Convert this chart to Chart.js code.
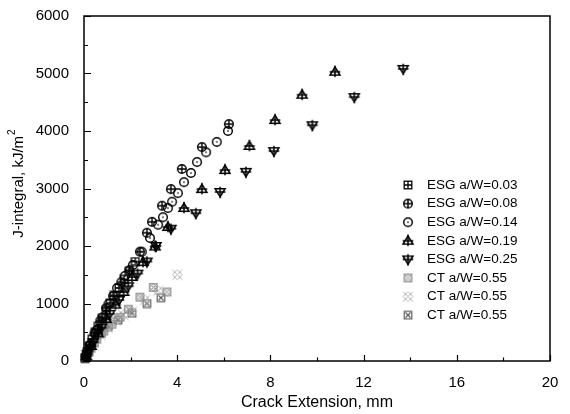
<!DOCTYPE html>
<html>
<head>
<meta charset="utf-8">
<script src="https://cdn.jsdelivr.net/npm/chart.js@4"></script>
<style>
  html, body { margin: 0; padding: 0; background: #fff; }
  #wrap { width: 570px; height: 414px; }
</style>
</head>
<body>
<div id="wrap"><canvas id="jr-chart" width="570" height="414"></canvas></div>
<script>
// Data (x = crack extension mm, y = J kJ/m2)
var esg003X = [0.05, 0.12, 0.22, 0.35, 0.48, 0.62, 0.78, 0.95, 1.12, 1.3, 1.5, 1.72, 1.95, 2.2];
var esg003Y = [60, 150, 260, 380, 500, 610, 740, 880, 1010, 1140, 1270, 1420, 1560, 1730];
var esg008X = [0.08, 0.25, 0.45, 0.7, 0.95, 1.25, 1.6, 1.95, 2.4, 2.7, 2.92, 3.35, 3.73, 4.2, 5.06, 6.22];
var esg008Y = [90, 280, 480, 700, 920, 1130, 1370, 1580, 1900, 2230, 2420, 2700, 2990, 3340, 3720, 4120];
var esg014X = [0.1, 0.3, 0.55, 0.8, 1.05, 1.42, 1.75, 2.1, 2.48, 2.83, 3.18, 3.39, 3.6, 3.78, 4.03, 4.29, 4.59, 4.85, 5.24, 5.7, 6.18];
var esg014Y = [100, 300, 540, 760, 990, 1270, 1480, 1670, 1900, 2140, 2370, 2500, 2660, 2770, 2920, 3110, 3270, 3460, 3630, 3810, 4000];
var esg019X = [0.1, 0.3, 0.6, 0.95, 1.35, 1.7, 2.06, 2.53, 3.05, 3.6, 4.29, 5.06, 6.05, 7.1, 8.2, 9.36, 10.77];
var esg019Y = [80, 260, 480, 730, 980, 1200, 1460, 1720, 1990, 2330, 2660, 2990, 3320, 3740, 4190, 4630, 5030];
var esg025X = [0.15, 0.4, 0.75, 1.1, 1.5, 1.9, 2.3, 2.7, 3.09, 3.73, 4.8, 5.84, 6.95, 8.15, 9.8, 11.6, 13.7];
var esg025Y = [120, 330, 580, 820, 1060, 1300, 1520, 1730, 2000, 2300, 2570, 2940, 3290, 3650, 4100, 4590, 5080];
var ct1X = [0.1, 0.3, 0.55, 0.85, 1.2, 1.55, 1.9, 2.4, 2.97, 3.56];
var ct1Y = [70, 220, 380, 520, 640, 760, 900, 1110, 1280, 1200];
var ct2X = [0.15, 0.4, 0.7, 1.0, 1.35, 1.7, 2.06, 2.62, 3.18, 4.0];
var ct2Y = [110, 270, 450, 580, 700, 800, 860, 1060, 1220, 1500];
var ct3X = [0.05, 0.2, 0.45, 0.75, 1.05, 1.46, 2.06, 2.7, 3.3];
var ct3Y = [40, 150, 320, 480, 600, 710, 830, 1000, 1100];

var seriesLabels = ["ESG a/W=0.03", "ESG a/W=0.08", "ESG a/W=0.14", "ESG a/W=0.19",
  "ESG a/W=0.25", "CT a/W=0.55", "CT a/W=0.55", "CT a/W=0.55"];
var xTicks = [0, 4, 8, 12, 16, 20];
var yTicks = [0, 1000, 2000, 3000, 4000, 5000, 6000];

var FONT = '"Liberation Sans", Arial, sans-serif';

// small canvases used as point styles
function makeMarker(size, draw) {
  var c = document.createElement("canvas");
  c.width = size;
  c.height = size;
  var g = c.getContext("2d");
  g.translate(size / 2, size / 2);
  draw(g, size / 2);
  return c;
}

var markers = [
  // square with plus
  makeMarker(10, function (g) {
    g.strokeStyle = "#000"; g.lineWidth = 1.3;
    g.strokeRect(-3.8, -3.8, 7.6, 7.6);
    g.beginPath(); g.moveTo(-3.8, 0); g.lineTo(3.8, 0); g.moveTo(0, -3.8); g.lineTo(0, 3.8); g.stroke();
  }),
  // circle with plus
  makeMarker(12, function (g) {
    g.strokeStyle = "#000"; g.lineWidth = 1.4;
    g.beginPath(); g.arc(0, 0, 4.3, 0, Math.PI * 2); g.stroke();
    g.beginPath(); g.moveTo(-4.3, 0); g.lineTo(4.3, 0); g.moveTo(0, -4.3); g.lineTo(0, 4.3); g.stroke();
  }),
  // circle with dot
  makeMarker(12, function (g) {
    g.strokeStyle = "#000"; g.lineWidth = 1.4;
    g.beginPath(); g.arc(0, 0, 4.3, 0, Math.PI * 2); g.stroke();
    g.fillStyle = "#000"; g.fillRect(-0.7, -0.7, 1.4, 1.4);
  }),
  // up triangle with plus
  makeMarker(14, function (g) {
    g.strokeStyle = "#000"; g.lineWidth = 1.5;
    g.beginPath(); g.moveTo(0, -4.8); g.lineTo(5, 3.3); g.lineTo(-5, 3.3); g.closePath(); g.stroke();
    g.beginPath(); g.moveTo(-5.3, 0); g.lineTo(5.3, 0); g.moveTo(0, -6.2); g.lineTo(0, 5.3); g.stroke();
  }),
  // down triangle with plus
  makeMarker(14, function (g) {
    g.strokeStyle = "#000"; g.lineWidth = 1.5;
    g.beginPath(); g.moveTo(0, 4.8); g.lineTo(5, -3.3); g.lineTo(-5, -3.3); g.closePath(); g.stroke();
    g.beginPath(); g.moveTo(-5.3, 0); g.lineTo(5.3, 0); g.moveTo(0, 6.2); g.lineTo(0, -5.3); g.stroke();
  }),
  // CT hatched square, mid grey
  makeMarker(11, function (g) {
    g.strokeStyle = "#888"; g.lineWidth = 1;
    g.strokeRect(-3.8, -3.8, 7.6, 7.6);
    g.beginPath();
    g.moveTo(-3.8, -3.8); g.lineTo(3.8, 3.8); g.moveTo(3.8, -3.8); g.lineTo(-3.8, 3.8);
    g.moveTo(-3.8, 0); g.lineTo(0, -3.8); g.lineTo(3.8, 0); g.lineTo(0, 3.8); g.closePath();
    g.stroke();
  }),
  // CT light lattice
  makeMarker(13, function (g) {
    g.strokeStyle = "#b4b4b4"; g.lineWidth = 1;
    g.beginPath();
    g.moveTo(-5, -5); g.lineTo(5, 5); g.moveTo(5, -5); g.lineTo(-5, 5);
    g.moveTo(-5, 0); g.lineTo(0, -5); g.lineTo(5, 0); g.lineTo(0, 5); g.closePath();
    g.stroke();
  }),
  // CT square with cross
  makeMarker(10, function (g) {
    g.strokeStyle = "#555"; g.lineWidth = 1.1;
    g.strokeRect(-3.8, -3.8, 7.6, 7.6);
    g.beginPath(); g.moveTo(-2.5, -2.5); g.lineTo(2.5, 2.5); g.moveTo(2.5, -2.5); g.lineTo(-2.5, 2.5); g.stroke();
  })
];

function toPoints(xs, ys) {
  return xs.map(function (x, i) { return { x: x, y: ys[i] }; });
}

var seriesData = [
  toPoints(esg003X, esg003Y), toPoints(esg008X, esg008Y), toPoints(esg014X, esg014Y),
  toPoints(esg019X, esg019Y), toPoints(esg025X, esg025Y),
  toPoints(ct1X, ct1Y), toPoints(ct2X, ct2Y), toPoints(ct3X, ct3Y)
];

// CT drawn under ESG like the original
var datasets = seriesData.map(function (d, i) {
  return {
    label: seriesLabels[i],
    data: d,
    pointStyle: markers[i],
    showLine: false,
    clip: false,
    order: i < 5 ? 0 : 1
  };
});

// frame, inward ticks, axis titles and the inside legend
var decorations = {
  id: "decorations",
  afterDraw: function (chart) {
    var ctx = chart.ctx;
    var a = chart.chartArea;
    var xs = chart.scales.x, ys = chart.scales.y;
    ctx.save();
    ctx.strokeStyle = "#000";
    ctx.lineWidth = 1.5;
    ctx.strokeRect(a.left, a.top, a.right - a.left, a.bottom - a.top);

    ctx.lineWidth = 1.2;
    ctx.beginPath();
    for (var v = 0; v <= 20; v += 2) {
      var px = Math.round(xs.getPixelForValue(v)) + 0.5;
      var len = v % 4 === 0 ? 6 : 3.5;
      ctx.moveTo(px, a.bottom); ctx.lineTo(px, a.bottom - len);
    }
    for (var w = 0; w <= 6000; w += 500) {
      var py = Math.round(ys.getPixelForValue(w)) + 0.5;
      var ylen = w % 1000 === 0 ? 7 : 4;
      ctx.moveTo(a.left, py); ctx.lineTo(a.left + ylen, py);
    }
    ctx.stroke();

    // axis titles
    ctx.fillStyle = "#000";
    ctx.font = "16px " + FONT;
    ctx.textAlign = "center";
    ctx.textBaseline = "alphabetic";
    ctx.fillText("Crack Extension, mm", (a.left + a.right) / 2, 407);

    ctx.save();
    ctx.translate(23, 184);
    ctx.rotate(-Math.PI / 2);
    ctx.font = "15px " + FONT;
    var main = "J-integral, kJ/m";
    var wMain = ctx.measureText(main).width;
    ctx.font = "10px " + FONT;
    var wSup = ctx.measureText("2").width;
    var startX = -(wMain + wSup) / 2;
    ctx.font = "15px " + FONT;
    ctx.textAlign = "left";
    ctx.fillText(main, startX, 0);
    ctx.font = "10px " + FONT;
    ctx.fillText("2", startX + wMain + 1, -8);
    ctx.restore();

    // legend inside plot
    ctx.font = "13.5px " + FONT;
    ctx.textAlign = "left";
    ctx.textBaseline = "middle";
    chart.data.datasets.forEach(function (ds, i) {
      var ly = 185 + i * 18.6;
      var m = ds.pointStyle;
      ctx.drawImage(m, 408 - m.width / 2, ly - m.height / 2);
      ctx.fillText(ds.label, 427, ly);
    });
    ctx.restore();
  }
};

function plainLabel(v) { return String(v); }

var ctx = document.getElementById("jr-chart").getContext("2d");
new Chart(ctx, {
  type: "scatter",
  data: { datasets: datasets },
  options: {
    responsive: false,
    animation: false,
    layout: { padding: { top: 16, right: 20, left: 0, bottom: 0 } },
    plugins: { legend: { display: false }, tooltip: { enabled: false } },
    scales: {
      x: {
        type: "linear",
        min: 0,
        max: 20,
        afterFit: function (scale) { scale.height = 53; },
        afterBuildTicks: function (scale) {
          scale.ticks = xTicks.map(function (v) { return { value: v }; });
        },
        grid: { display: false },
        border: { display: false },
        ticks: { color: "#000", padding: 5, callback: plainLabel, font: { size: 15, family: FONT } }
      },
      y: {
        type: "linear",
        min: 0,
        max: 6000,
        afterFit: function (scale) { scale.width = 84; },
        afterBuildTicks: function (scale) {
          scale.ticks = yTicks.map(function (v) { return { value: v }; });
        },
        grid: { display: false },
        border: { display: false },
        ticks: { color: "#000", padding: 7, callback: plainLabel, font: { size: 15, family: FONT } }
      }
    }
  },
  plugins: [decorations]
});
</script>
</body>
</html>
